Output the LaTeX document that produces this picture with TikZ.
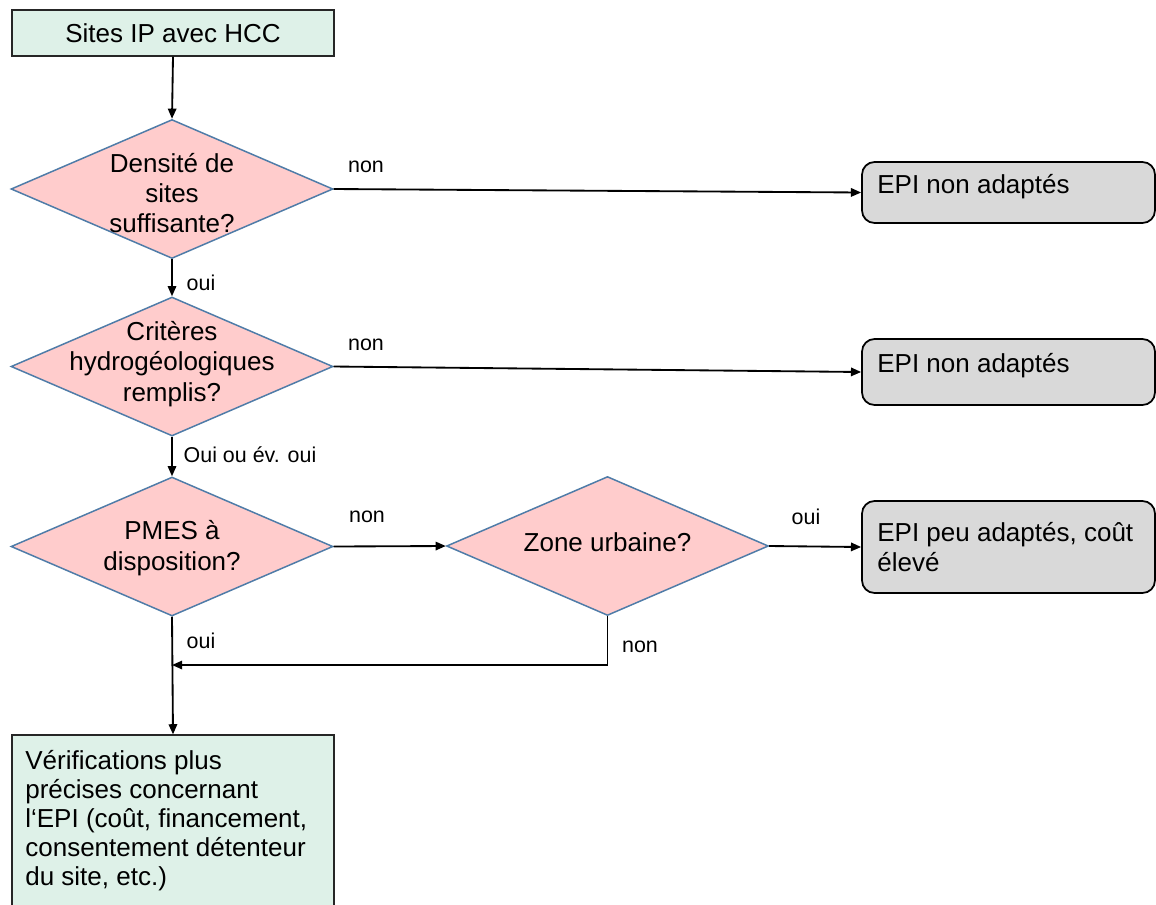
\documentclass[tikz,border=0pt]{standalone}
\usepackage{fontspec}
\setmainfont{Liberation Sans}
\usetikzlibrary{shapes.geometric,arrows.meta}
\definecolor{boxgreen}{HTML}{DEF1E8}
\definecolor{diapink}{HTML}{FFCCCC}
\definecolor{diaborder}{HTML}{4F7CA8}
\definecolor{boxgray}{HTML}{D9D9D9}
\begin{document}
\begin{tikzpicture}[x=0.02cm,y=-0.02cm,
  greenbox/.style={draw=black!85, fill=boxgreen, line width=0.7pt, inner sep=0pt, minimum width=6.44cm},
  dia/.style={shape=diamond, draw=diaborder, fill=diapink, line width=0.85pt, inner sep=0pt, minimum width=6.44cm, minimum height=2.78cm},
  maintext/.style={font=\fontsize{14.8}{17.3}\selectfont, inner sep=0pt},
  diatext/.style={maintext, align=center},
  graybox/.style={draw=black, fill=boxgray, rounded corners=0.25cm, line width=1pt, minimum width=5.86cm, inner sep=0pt},
  conn/.style={line width=1.05pt, -{Triangle[length=5.8pt,width=4.8pt]}},
  lab/.style={font=\fontsize{12.2}{14}\selectfont, inner sep=0pt}
]
\useasboundingbox (0,0) rectangle (1156,904);
\clip (0,0) rectangle (1156,904);

% start box
\node[greenbox, maintext, minimum height=0.92cm] (top) at (173,33) {Sites IP avec HCC};

% diamonds
\node[dia] (d1) at (172,189) {};
\node[diatext] (d1t) at (172,193) {Densité de\\sites\\suffisante?};
\node[dia] (d2) at (172,366.5) {};
\node[diatext] (d2t) at (172,364) {Critères\\hydrogéologiques\\remplis?};
\node[dia] (d3) at (172,546.5) {};
\node[diatext] (d3t) at (172,548) {PMES à\\disposition?};
\node[dia] (d4) at (607.5,546) {};
\node[diatext] (d4t) at (607.5,542) {Zone urbaine?};

% gray result boxes
\node[graybox, minimum height=1.22cm] (b1) at (1008.5,192.5) {};
\node[maintext, anchor=west] (b1t) at (877,187) {EPI non adaptés};
\node[graybox, minimum height=1.32cm] (b2) at (1008.5,372) {};
\node[maintext, anchor=west] (b2t) at (877,366) {EPI non adaptés};
\node[graybox, minimum height=1.84cm] (b3) at (1008.5,547) {};
\node[maintext, anchor=west, align=left] (b3t) at (877,547) {EPI peu adaptés, coût\\élevé};

% final box
\node[greenbox, minimum height=3.6cm] (fin) at (173,825) {};
\node[maintext, anchor=north west, align=left, font=\fontsize{14.8}{16.5}\selectfont] (fint) at (25,750)
  {Vérifications plus\\précises concernant\\l‘EPI (coût, financement,\\consentement détenteur\\du site, etc.)};

% connectors
\coordinate (jn) at (172,665);
\draw[conn] (top.south) -- (d1.north);
\draw[conn] (d1.east) -- (b1.west);
\draw[conn] (d1.south) -- (d2.north);
\draw[conn] (d2.east) -- (b2.west);
\draw[conn] (d2.south) -- (d3.north);
\draw[conn] (d3.east) -- (d4.west);
\draw[conn] (d4.east) -- (b3.west);
\draw[conn] (d3.south) -- (fin.north);
\draw[conn] (d4.south) |- (jn);

% labels
\node[lab] (l1) at (366,167) {non};
\node[lab] (l2) at (201,283) {oui};
\node[lab] (l3) at (366,345) {non};
\node[lab] (l4) at (250,455) {Oui ou év. oui};
\node[lab] (l5) at (367,517) {non};
\node[lab] (l6) at (806,517) {oui};
\node[lab] (l7) at (640,647) {non};
\node[lab] (l8) at (201,641) {oui};
\end{tikzpicture}
\end{document}
